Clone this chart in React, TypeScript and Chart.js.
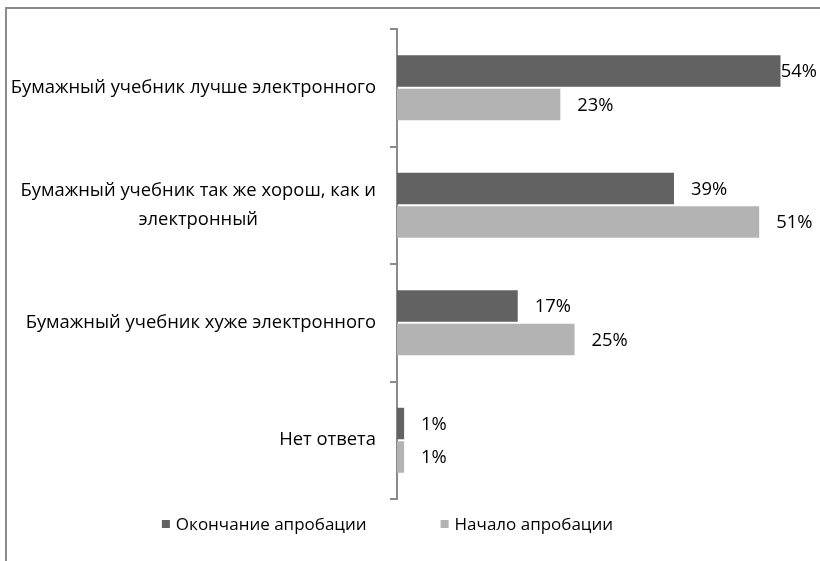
import React, { useEffect, useRef } from "react";
import { Chart, registerables } from "chart.js";

Chart.register(...registerables);

// Survey answers (percent of respondents)
const categories: (string | string[])[] = [
  "Бумажный учебник лучше электронного",
  ["Бумажный учебник так же хорош, как и", "электронный"],
  "Бумажный учебник хуже электронного",
  "Нет ответа",
];
const seriesNames = ["Окончание апробации", "Начало апробации"];
const endValues = [54, 39, 17, 1];
const startValues = [23, 51, 25, 1];
const seriesColors = ["#626262", "#b3b3b3"];

const FONT_FAMILY = "'Open Sans', 'Noto Sans', sans-serif";
const FONT_SIZE = 18.4;
const LEGEND_FONT_SIZE = 17;
const TEXT_COLOR = "#000000";
const FRAME_COLOR = "#8a8a8a";

const decorations = {
  id: "decorations",
  beforeDraw(chart: any) {
    const ctx = chart.ctx;
    ctx.save();
    ctx.strokeStyle = FRAME_COLOR;
    ctx.lineWidth = 2;
    ctx.beginPath();
    ctx.moveTo(6, chart.height);
    ctx.lineTo(6, 8);
    ctx.lineTo(chart.width, 8);
    ctx.stroke();
    ctx.restore();
  },
  afterDraw(chart: any) {
    const ctx = chart.ctx;
    const yScale = chart.scales.y;
    const area = chart.chartArea;
    ctx.save();
    ctx.font = `${FONT_SIZE}px ${FONT_FAMILY}`;
    ctx.fillStyle = TEXT_COLOR;
    ctx.textBaseline = "middle";

    // category labels: block right-aligned to the axis, lines centred within the block
    const labelRight = area.left - 21;
    const lineHeight = 29;
    categories.forEach((label, i) => {
      const lines = Array.isArray(label) ? label : [label];
      const widths = lines.map((l) => ctx.measureText(l).width);
      const blockW = Math.max(...widths);
      const cx = labelRight - blockW / 2;
      const cy = yScale.getPixelForValue(i);
      const y0 = cy - ((lines.length - 1) * lineHeight) / 2;
      ctx.textAlign = "center";
      lines.forEach((l, k) => ctx.fillText(l, cx, y0 + k * lineHeight));
    });

    // value labels at the bar ends
    ctx.textAlign = "left";
    const rightLimit = chart.width - 3;
    chart.data.datasets.forEach((ds: any, di: number) => {
      const meta = chart.getDatasetMeta(di);
      meta.data.forEach((bar: any, i: number) => {
        const text = `${ds.data[i]}%`;
        const w = ctx.measureText(text).width;
        const x = Math.min(bar.x + 17, rightLimit - w);
        ctx.fillText(text, x, bar.y + 1);
      });
    });

    // legend
    ctx.font = `${LEGEND_FONT_SIZE}px ${FONT_FAMILY}`;
    const box = 8;
    const boxGap = 6;
    const itemGap = 74;
    const widths = seriesNames.map((n) => ctx.measureText(n).width);
    const total =
      widths.reduce((a, b) => a + b, 0) + seriesNames.length * (box + boxGap) + itemGap;
    let x = 387.5 - total / 2;
    const ly = 524;
    seriesNames.forEach((name, i) => {
      ctx.fillStyle = seriesColors[i];
      ctx.fillRect(x, ly - box / 2, box, box);
      ctx.fillStyle = TEXT_COLOR;
      ctx.fillText(name, x + box + boxGap, ly + 1);
      x += box + boxGap + widths[i] + itemGap;
    });
    ctx.restore();
  },
};

export default function App() {
  const canvasRef = useRef<HTMLCanvasElement | null>(null);

  useEffect(() => {
    document.body.style.margin = "0";
    const canvas = canvasRef.current;
    if (!canvas) return;
    const chart = new Chart(canvas, {
      type: "bar",
      data: {
        labels: categories as any,
        datasets: [
          {
            label: seriesNames[0],
            data: endValues,
            backgroundColor: seriesColors[0],
            categoryPercentage: 0.57,
            barPercentage: 0.94,
          },
          {
            label: seriesNames[1],
            data: startValues,
            backgroundColor: seriesColors[1],
            categoryPercentage: 0.57,
            barPercentage: 0.94,
          },
        ],
      },
      options: {
        indexAxis: "y",
        responsive: false,
        animation: false,
        layout: { padding: { top: 29, bottom: 62, left: 0, right: 4 } },
        plugins: {
          legend: { display: false },
          tooltip: { enabled: false },
        },
        scales: {
          x: { display: false, min: 0, max: 59 },
          y: {
            ticks: { display: false },
            grid: {
              drawOnChartArea: false,
              drawTicks: true,
              tickLength: 7,
              color: FRAME_COLOR,
              lineWidth: 2,
              offset: true,
            },
            border: { display: true, color: FRAME_COLOR, width: 2 },
            afterFit: (scale: any) => {
              scale.width = 397;
            },
          },
        },
      },
      plugins: [decorations],
    });
    return () => chart.destroy();
  }, []);

  return <canvas ref={canvasRef} width={820} height={561} style={{ display: "block" }} />;
}
